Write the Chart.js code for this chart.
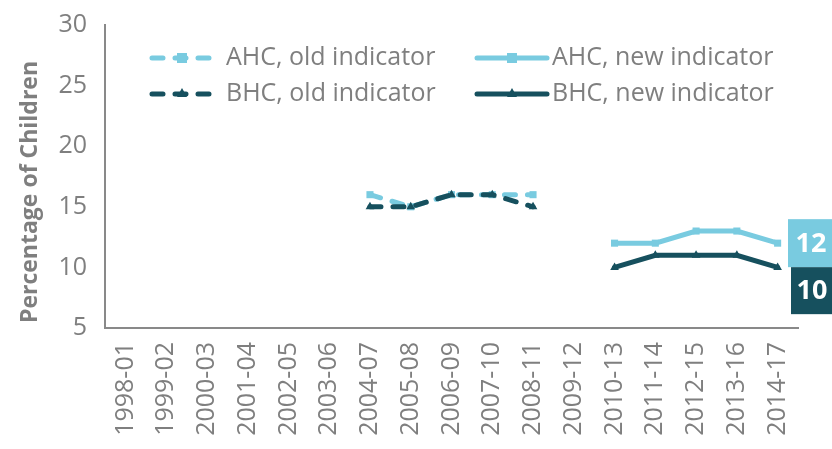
<!DOCTYPE html>
<html>
<head>
<meta charset="utf-8">
<script src="https://cdn.jsdelivr.net/npm/chart.js@4.4.1/dist/chart.umd.min.js"></script>
<style>
  body { margin: 0; background: #fff; }
  #wrap { width: 832px; height: 449px; }
</style>
</head>
<body>
<div id="wrap"><canvas id="c" width="832" height="449"></canvas></div>
<script>
// years on the x axis
const years = ['1998-01', '1999-02', '2000-03', '2001-04', '2002-05', '2003-06', '2004-07', '2005-08',
  '2006-09', '2007-10', '2008-11', '2009-12', '2010-13', '2011-14', '2012-15', '2013-16', '2014-17'];

// series values (null = no data)
const ahcOld = [null, null, null, null, null, null, 16, 15, 16, 16, 16, null, null, null, null, null, null];
const bhcOld = [null, null, null, null, null, null, 15, 15, 16, 16, 15, null, null, null, null, null, null];
const ahcNew = [null, null, null, null, null, null, null, null, null, null, null, null, 12, 12, 13, 13, 12];
const bhcNew = [null, null, null, null, null, null, null, null, null, null, null, null, 10, 11, 11, 11, 10];

const yTicks = [5, 10, 15, 20, 25, 30];

const LIGHT = '#79cbe0';
const DARK = '#16505e';
const GREY = '#7f7f7f';
const FONT = '"Open Sans"';

function series(label, data, color, dashed, marker, order) {
  return {
    label: label,
    data: data,
    order: order,
    borderColor: color,
    backgroundColor: color,
    borderWidth: 5,
    borderDash: dashed ? [11, 12] : [],
    borderCapStyle: 'round',
    pointStyle: marker,
    pointRadius: 5,
    pointBorderWidth: 0,
    spanGaps: false,
    tension: 0
  };
}

// legend drawn inside the plot, two columns
const insideLegend = {
  id: 'insideLegend',
  afterDraw(chart) {
    const ctx = chart.ctx;
    const ds = chart.data.datasets;
    const items = [
      { ds: ds[0], x0: 152, x1: 212, tx: 226, y: 58 },
      { ds: ds[2], x0: 477, x1: 547, tx: 552, y: 58 },
      { ds: ds[1], x0: 152, x1: 212, tx: 226, y: 94 },
      { ds: ds[3], x0: 477, x1: 547, tx: 552, y: 94 }
    ];
    ctx.save();
    items.forEach(it => {
      const d = it.ds;
      ctx.strokeStyle = d.borderColor;
      ctx.lineWidth = 5;
      ctx.lineCap = 'round';
      ctx.setLineDash(d.borderDash.length ? [11, 12] : []);
      ctx.beginPath();
      ctx.moveTo(it.x0, it.y);
      ctx.lineTo(it.x1, it.y);
      ctx.stroke();
      ctx.setLineDash([]);
      ctx.fillStyle = d.borderColor;
      const mx = (it.x0 + it.x1) / 2;
      if (d.pointStyle === 'rect') {
        ctx.fillRect(mx - 5, it.y - 5, 10, 10);
      } else {
        ctx.beginPath();
        ctx.moveTo(mx, it.y - 6);
        ctx.lineTo(mx + 5, it.y + 3);
        ctx.lineTo(mx - 5, it.y + 3);
        ctx.closePath();
        ctx.fill();
      }
      ctx.fillStyle = GREY;
      ctx.font = '25px ' + FONT;
      ctx.textBaseline = 'middle';
      ctx.textAlign = 'left';
      ctx.fillText(d.label, it.tx, it.y);
    });
    ctx.restore();
  }
};

// axis title and the value boxes at the right end of the new-indicator lines
const extras = {
  id: 'extras',
  afterDraw(chart) {
    const ctx = chart.ctx;
    const y = chart.scales.y;
    const right = chart.width;
    ctx.save();
    ctx.fillStyle = GREY;
    ctx.font = 'bold 23px ' + FONT;
    ctx.textAlign = 'center';
    ctx.textBaseline = 'middle';
    ctx.translate(30, 192);
    ctx.rotate(-Math.PI / 2);
    ctx.fillText('Percentage of Children', 0, 0);
    ctx.restore();

    const a = ahcNew[ahcNew.length - 1];
    const b = bhcNew[bhcNew.length - 1];
    const cy = y.getPixelForValue(a);
    ctx.save();
    ctx.fillStyle = LIGHT;
    ctx.fillRect(788, cy - 24, right - 788, 48);
    ctx.fillStyle = DARK;
    ctx.fillRect(791, cy + 24, right - 791, 47);
    ctx.fillStyle = '#ffffff';
    ctx.font = 'bold 27px ' + FONT;
    ctx.textAlign = 'center';
    ctx.textBaseline = 'middle';
    ctx.fillText(String(a), 811, cy + 1);
    ctx.fillText(String(b), 812, cy + 48);
    ctx.restore();
  }
};

new Chart(document.getElementById('c'), {
  type: 'line',
  data: {
    labels: years,
    datasets: [
      series('AHC, old indicator', ahcOld, LIGHT, true, 'rect', 2),
      series('BHC, old indicator', bhcOld, DARK, true, 'triangle', 1),
      series('AHC, new indicator', ahcNew, LIGHT, false, 'rect', 2),
      series('BHC, new indicator', bhcNew, DARK, false, 'triangle', 1)
    ]
  },
  options: {
    responsive: false,
    animation: false,
    layout: { padding: { top: 4, right: 34, left: 0, bottom: 0 } },
    plugins: {
      legend: { display: false },
      tooltip: { enabled: false }
    },
    scales: {
      x: {
        offset: true,
        grid: { display: false },
        border: { display: true, color: '#898989', width: 2 },
        ticks: {
          color: GREY,
          font: { family: 'Open Sans', size: 25 },
          minRotation: 90,
          maxRotation: 90,
          autoSkip: false,
          padding: 6
        },
        afterFit: s => { s.height = 121; }
      },
      y: {
        min: 5,
        max: 30,
        afterBuildTicks: s => { s.ticks = yTicks.map(v => ({ value: v })); },
        grid: { display: false },
        border: { display: true, color: '#898989', width: 2 },
        ticks: {
          color: GREY,
          font: { family: 'Open Sans', size: 25 },
          padding: 10
        },
        afterFit: s => { s.width = 105; }
      }
    }
  },
  plugins: [insideLegend, extras]
});
</script>
</body>
</html>
